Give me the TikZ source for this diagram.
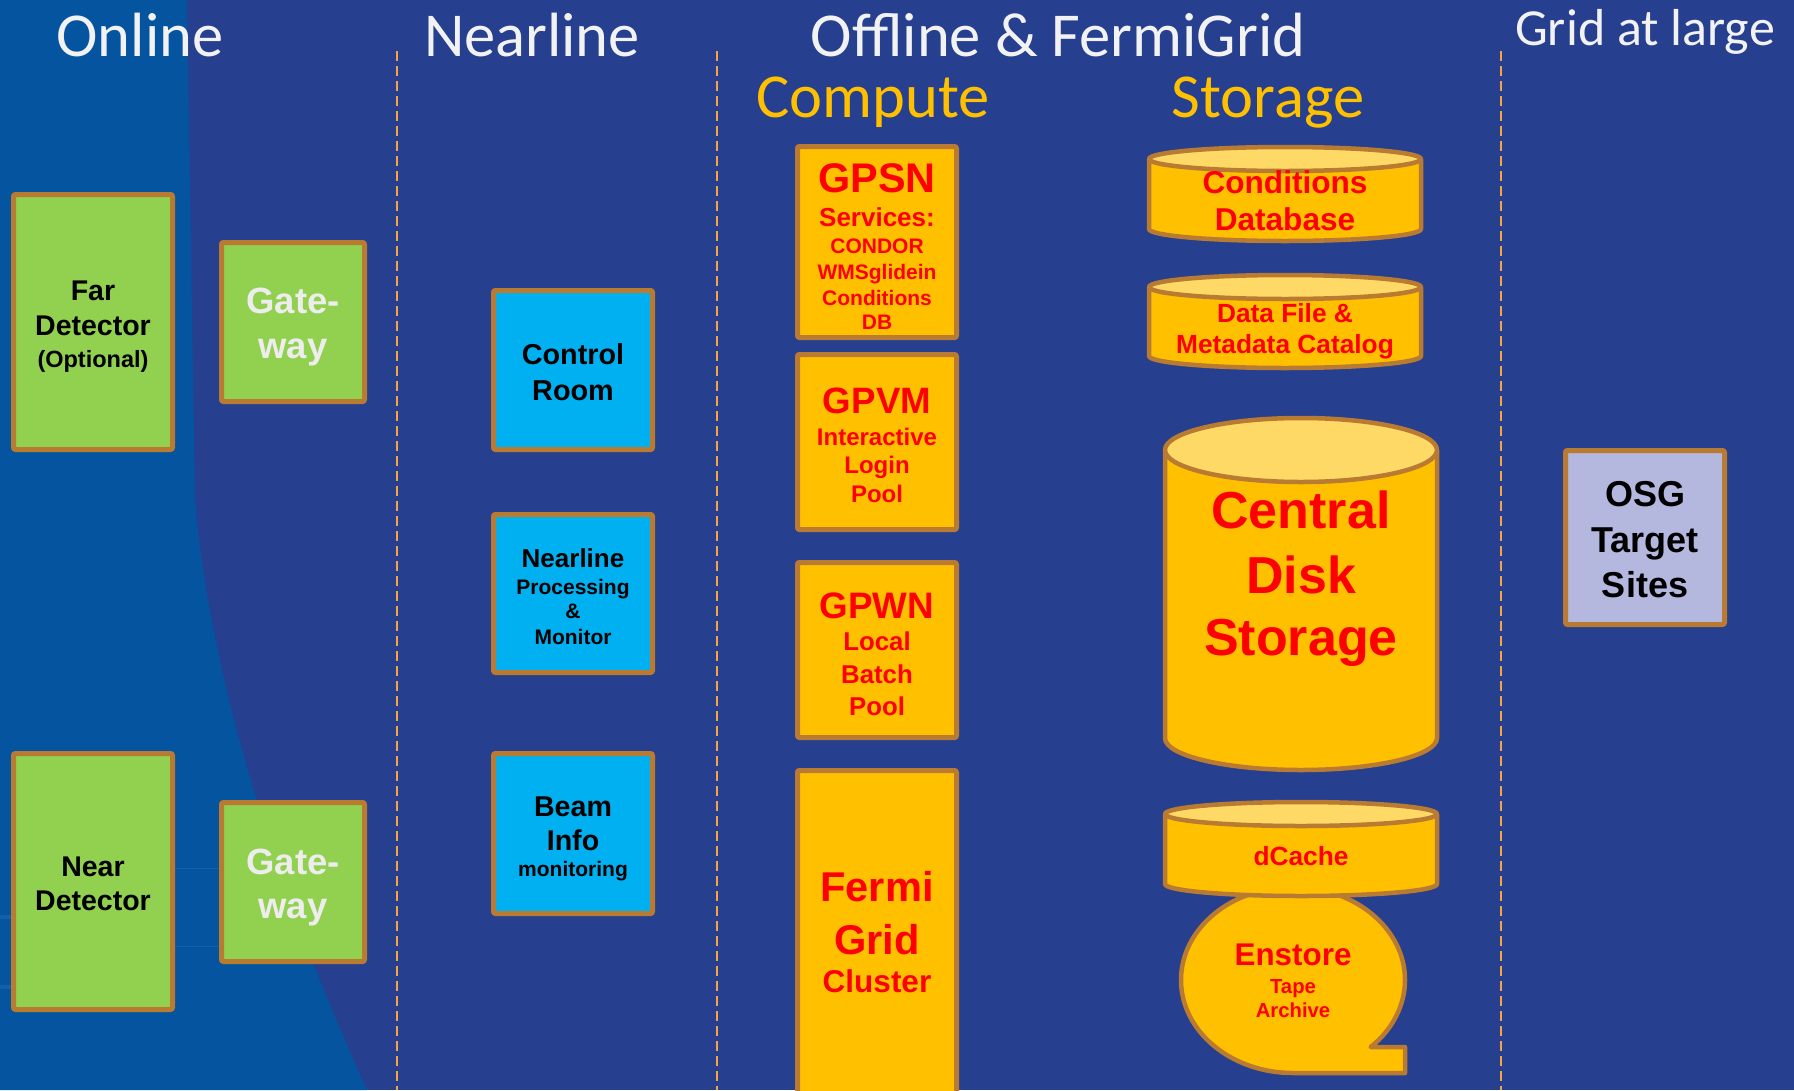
\documentclass[tikz,border=0pt]{standalone}
\usepackage{fontspec}
\setmainfont{Liberation Sans}
\newfontfamily\ttlfont{Carlito}
\definecolor{bgdark}{HTML}{263F8F}
\definecolor{bglight}{HTML}{0454A0}
\definecolor{faintc}{HTML}{145FAB}
\definecolor{bordc}{HTML}{B97B31}
\definecolor{greenc}{HTML}{92D050}
\definecolor{bluec}{HTML}{00B0F0}
\definecolor{orc}{HTML}{FFC000}
\definecolor{topc}{HTML}{FFD966}
\definecolor{redc}{HTML}{FF0000}
\definecolor{lavc}{HTML}{B4B7DE}
\definecolor{dashc}{HTML}{F2A541}
\definecolor{ttlc}{HTML}{F2F2F2}
\definecolor{gatec}{HTML}{EDEDED}
\newcommand\fsz[1]{\fontsize{#1}{#1}\selectfont}
\newcommand\TL[5]{\node[lbl,text=#1] (#2) at #3 {\fsz{#4}#5};}
\begin{document}
\begin{tikzpicture}[x=1pt,y=-1pt,
  boxbase/.style={draw=bordc, line width=5pt, rounded corners=2pt, inner sep=0pt},
  gbox/.style={boxbase, fill=greenc},
  bbox/.style={boxbase, fill=bluec},
  obox/.style={boxbase, fill=orc},
  lbox/.style={boxbase, fill=lavc},
  lbl/.style={inner sep=0pt, anchor=base, font=\bfseries},
  ttl/.style={inner sep=0pt, anchor=base, font=\ttlfont\fsz{62.5}},
  sep/.style={draw=dashc, line width=2pt, dash pattern=on 10pt off 5pt},
  cylline/.style={draw=bordc, line width=4.5pt, line join=round},
  faint/.style={draw=faintc, line width=1pt}]
\useasboundingbox (0,0) rectangle (1794,1090);
\clip (0,0) rectangle (1794,1090);
\fill[bgdark] (0,0) rectangle (1794,1090);
\fill[bglight] (0,0) -- (187,0) -- (195,500) .. controls (210,680) and (280,900) .. (367,1090) -- (0,1090) -- cycle;

% separators
\draw[sep] (397,51) -- (397,1090);
\draw[sep] (717,51) -- (717,1090);
\draw[sep] (1501,51) -- (1501,1090);

% titles
\node[ttl, text=ttlc] (tonline) at (140,56) {Online};
\node[ttl, text=ttlc] (tnearline) at (532,56) {Nearline};
\node[ttl, text=ttlc] (toffline) at (1058,56) {Offline \& FermiGrid};
\node[ttl, text=orc] (tcompute) at (873,117) {Compute};
\node[ttl, text=orc] (tstorage) at (1268,117) {Storage};
\node[ttl, text=ttlc, font=\ttlfont\fsz{52}] (tgrid) at (1645,45) {Grid at large};

% online
\node[gbox, minimum width=159, minimum height=255] (far) at (93,322) {};
\TL{black}{far1}{(93,300)}{28.5}{Far}
\TL{black}{far2}{(93,335)}{28.5}{Detector}
\TL{black}{far3}{(93,367)}{23.5}{(Optional)}
\node[gbox, minimum width=143, minimum height=159] (gw1) at (293,322) {};
\TL{gatec}{gw1a}{(293,313)}{36.5}{Gate-}
\TL{gatec}{gw1b}{(293,358)}{36.5}{way}
\coordinate (inA) at (0,917);
\coordinate (inB) at (0,987);
\draw[faint, line width=4pt] (inA) -- (11,917);
\draw[faint, line width=4pt] (inB) -- (11,987);
\node[gbox, minimum width=159, minimum height=256] (near) at (93,881.5) {};
\TL{black}{near1}{(93,876)}{28.5}{Near}
\TL{black}{near2}{(93,910)}{28.5}{Detector}
\node[gbox, minimum width=143, minimum height=159] (gw2) at (293,882) {};
\TL{gatec}{gw2a}{(293,874)}{36.5}{Gate-}
\TL{gatec}{gw2b}{(293,918)}{36.5}{way}
\draw[faint] ([yshift=13.5pt]near.east) -- ([yshift=13.5pt]near.east -| gw2.west);
\draw[faint] ([yshift=-65pt]near.east) -- ([yshift=-65pt]near.east -| gw2.west);

% nearline
\node[bbox, minimum width=159, minimum height=159] (ctrl) at (573,370) {};
\TL{black}{ctrl1}{(573,364)}{28.8}{Control}
\TL{black}{ctrl2}{(573,400)}{28.8}{Room}
\node[bbox, minimum width=159, minimum height=158] (nproc) at (573,593.5) {};
\TL{black}{np1}{(573,567)}{26}{Nearline}
\TL{black}{np2}{(573,594)}{21}{Processing}
\TL{black}{np3}{(573,618)}{21}{\&}
\TL{black}{np4}{(573,644)}{21}{Monitor}
\node[bbox, minimum width=159, minimum height=160] (beam) at (573,833.5) {};
\TL{black}{bm1}{(573,816)}{28.6}{Beam}
\TL{black}{bm2}{(573,850)}{28.6}{Info}
\TL{black}{bm3}{(573,876)}{21}{monitoring}

% compute
\node[obox, minimum width=159, minimum height=191] (gpsn) at (877,242) {};
\TL{redc}{ps1}{(877,192)}{41.4}{GPSN}
\TL{redc}{ps2}{(877,226)}{26}{Services:}
\TL{redc}{ps3}{(877,253)}{21}{CONDOR}
\TL{redc}{ps4}{(877,279)}{21}{WMSglidein}
\TL{redc}{ps5}{(877,305)}{21}{Conditions}
\TL{redc}{ps6}{(877,329)}{21}{DB}
\node[obox, minimum width=159, minimum height=175] (gpvm) at (877,442) {};
\TL{redc}{pv1}{(877,413)}{36.7}{GPVM}
\TL{redc}{pv2}{(877,445)}{24}{Interactive}
\TL{redc}{pv3}{(877,473)}{24}{Login}
\TL{redc}{pv4}{(877,502)}{24}{Pool}
\node[obox, minimum width=159, minimum height=175] (gpwn) at (877,650) {};
\TL{redc}{pw1}{(877,618)}{36.8}{GPWN}
\TL{redc}{pw2}{(877,650)}{25.8}{Local}
\TL{redc}{pw3}{(877,683)}{25.8}{Batch}
\TL{redc}{pw4}{(877,715)}{25.8}{Pool}
\node[obox, minimum width=159, minimum height=347] (fermi) at (877,944) {};
\TL{redc}{fg1}{(877,901)}{41.6}{Fermi}
\TL{redc}{fg2}{(877,954)}{41.6}{Grid}
\TL{redc}{fg3}{(877,992)}{31.5}{Cluster}

% storage: conditions database
\fill[orc] (1149,159) -- (1149,229) arc[start angle=180,end angle=0,x radius=136,y radius=12] -- (1421,159) -- cycle;
\draw[cylline] (1149,159) -- (1149,229) arc[start angle=180,end angle=0,x radius=136,y radius=12] -- (1421,159);
\filldraw[cylline, fill=topc] (1285,159) ellipse [x radius=136, y radius=12];
\TL{redc}{cd1}{(1285,193)}{31.6}{Conditions}
\TL{redc}{cd2}{(1285,230)}{31.6}{Database}

% data file catalog
\fill[orc] (1149,287) -- (1149,356) arc[start angle=180,end angle=0,x radius=136,y radius=12] -- (1421,287) -- cycle;
\draw[cylline] (1149,287) -- (1149,356) arc[start angle=180,end angle=0,x radius=136,y radius=12] -- (1421,287);
\filldraw[cylline, fill=topc] (1285,287) ellipse [x radius=136, y radius=12];
\TL{redc}{df1}{(1285,322)}{26.3}{Data File \&}
\TL{redc}{df2}{(1285,353)}{26.3}{Metadata Catalog}

% central disk storage
\fill[orc] (1165,450) -- (1165,738) arc[start angle=180,end angle=0,x radius=136,y radius=32] -- (1437,450) -- cycle;
\draw[cylline] (1165,450) -- (1165,738) arc[start angle=180,end angle=0,x radius=136,y radius=32] -- (1437,450);
\filldraw[cylline, fill=topc] (1301,450) ellipse [x radius=136, y radius=32];
\TL{redc}{cs1}{(1301,528)}{52}{Central}
\TL{redc}{cs2}{(1301,593)}{52}{Disk}
\TL{redc}{cs3}{(1301,655)}{52}{Storage}

% enstore
\filldraw[cylline, fill=orc] (1293,1073) arc[start angle=90,end angle=406.1,x radius=112,y radius=93] -- (1405,1047) -- (1405,1073) -- cycle;
\TL{redc}{en1}{(1293,965)}{31.4}{Enstore}
\TL{redc}{en2}{(1293,993)}{20.3}{Tape}
\TL{redc}{en3}{(1293,1017)}{20.3}{Archive}

% dcache
\fill[orc] (1165,814) -- (1165,884) arc[start angle=180,end angle=0,x radius=136,y radius=12] -- (1437,814) -- cycle;
\draw[cylline] (1165,814) -- (1165,884) arc[start angle=180,end angle=0,x radius=136,y radius=12] -- (1437,814);
\filldraw[cylline, fill=topc] (1301,814) ellipse [x radius=136, y radius=12];
\TL{redc}{dc1}{(1301,865)}{26.3}{dCache}

% grid at large
\node[lbox, minimum width=159, minimum height=174] (osg) at (1645,537.5) {};
\TL{black}{os1}{(1645,506)}{36}{OSG}
\TL{black}{os2}{(1645,552)}{36}{Target}
\TL{black}{os3}{(1645,597)}{36}{Sites}
\end{tikzpicture}
\end{document}
